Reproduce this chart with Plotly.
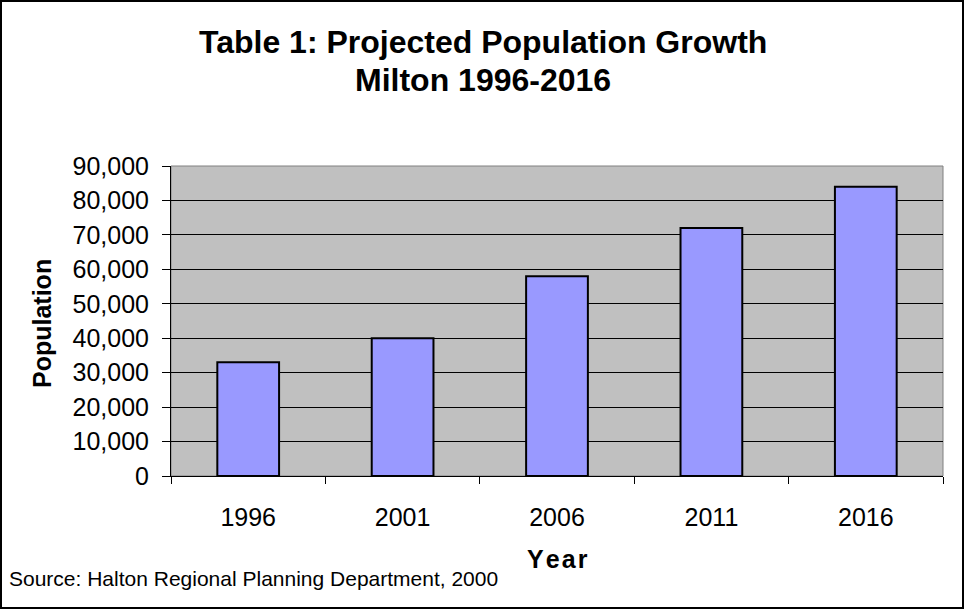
import plotly.graph_objects as go

years = ["1996", "2001", "2006", "2011", "2016"]
population = [33000, 40000, 58000, 72000, 84000]
y_ticks = [0, 10000, 20000, 30000, 40000, 50000, 60000, 70000, 80000, 90000]
y_tick_labels = ["0", "10,000", "20,000", "30,000", "40,000", "50,000",
                 "60,000", "70,000", "80,000", "90,000"]

W, H = 964, 609
L, R, T, B = 171, 21, 166, 133
pw = W - L - R
ph = H - T - B

def px(x):
    return (x - L) / pw

def py(y):
    return (H - B - y) / ph

fig = go.Figure()
fig.add_trace(go.Bar(
    x=years, y=population,
    marker=dict(color="#9999FF", line=dict(color="black", width=2)),
    width=0.4,
))

font = "Liberation Sans, Arial, sans-serif"

fig.update_layout(
    width=W, height=H,
    margin=dict(l=L, r=R, t=T, b=B),
    paper_bgcolor="white",
    plot_bgcolor="#C0C0C0",
    showlegend=False,
    font=dict(family=font, color="black"),
    xaxis=dict(
        type="category",
        tickson="boundaries",
        ticks="outside", ticklen=7, tickcolor="black", tickwidth=1,
        showline=True, linecolor="black", linewidth=1,
        showgrid=False,
        tickfont=dict(size=25, family=font),
        ticklabelstandoff=19,
        range=[-0.5, 4.5],
    ),
    yaxis=dict(
        range=[0, 90000],
        tickvals=y_ticks, ticktext=y_tick_labels,
        ticks="outside", ticklen=8, tickcolor="black", tickwidth=1,
        showline=True, linecolor="black", linewidth=1,
        showgrid=True, gridcolor="black", gridwidth=1,
        tickfont=dict(size=25, family=font),
        ticklabelstandoff=8,
        zeroline=False,
    ),
    shapes=[
        dict(type="rect", xref="paper", yref="paper",
             x0=0, x1=1, y0=0, y1=1,
             line=dict(color="#808080", width=1), layer="below"),
        dict(type="rect", xref="paper", yref="paper",
             x0=px(1), x1=px(963), y0=py(1), y1=py(608),
             line=dict(color="black", width=2)),
    ],
    annotations=[
        dict(text="<b>Table 1: Projected Population Growth</b>",
             xref="paper", yref="paper", x=px(483), y=py(42),
             showarrow=False, font=dict(size=32, family=font),
             xanchor="center", yanchor="middle"),
        dict(text="<b>Milton 1996-2016</b>",
             xref="paper", yref="paper", x=px(483), y=py(80),
             showarrow=False, font=dict(size=32, family=font),
             xanchor="center", yanchor="middle"),
        dict(text="<b>Population</b>",
             xref="paper", yref="paper", x=px(42), y=py(324),
             showarrow=False, textangle=-90, font=dict(size=25, family=font),
             xanchor="center", yanchor="middle"),
        dict(text="<b>Y e a r</b>".replace(" ", "&#8202;"),
             xref="paper", yref="paper", x=px(557), y=py(559),
             showarrow=False, font=dict(size=25, family=font),
             xanchor="center", yanchor="middle"),
        dict(text="Source: Halton Regional Planning Department, 2000",
             xref="paper", yref="paper", x=px(7), y=py(578),
             showarrow=False, font=dict(size=21, family=font),
             xanchor="left", yanchor="middle"),
    ],
)

fig.write_html("out.html", config={"displayModeBar": False},
               post_script="document.body.style.margin='0';")
